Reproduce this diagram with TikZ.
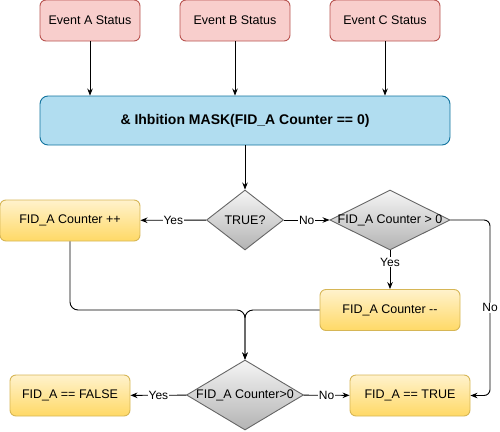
\documentclass[tikz,border=0pt]{standalone}
\usepackage{fontspec}
\setmainfont{Liberation Sans}
\usetikzlibrary{shapes.geometric,arrows.meta}
\definecolor{evfill}{HTML}{F8CECC}
\definecolor{evline}{HTML}{B85450}
\definecolor{mskfill}{HTML}{B1DDF0}
\definecolor{mskline}{HTML}{10739E}
\definecolor{yltop}{HTML}{FFF2CC}
\definecolor{ylbot}{HTML}{FFD966}
\definecolor{ylline}{HTML}{D6B656}
\definecolor{gytop}{HTML}{F5F5F5}
\definecolor{gybot}{HTML}{B3B3B3}
\definecolor{gyline}{HTML}{666666}
\begin{document}
\begin{tikzpicture}[x=1pt,y=-1pt, font=\fontsize{12.5}{15}\selectfont,
    evbox/.style={draw=evline, fill=evfill, rounded corners=6pt, minimum height=41pt, line width=0.9pt},
    mskbox/.style={draw=mskline, fill=mskfill, rounded corners=8pt, minimum width=410pt, minimum height=49pt, line width=0.9pt, font=\fontsize{14}{16}\selectfont\bfseries},
    actbox/.style={draw=ylline, top color=yltop, bottom color=ylbot, rounded corners=6pt, minimum width=#1, minimum height=41pt, line width=0.9pt},
    decide/.style={diamond, draw=gyline, top color=gytop, bottom color=gybot, inner sep=0pt, line width=0.9pt},
    arr/.style={-{Stealth[length=7pt,width=5.5pt]}, line width=0.9pt},
    lbl/.style={fill=white, inner sep=1pt, font=\fontsize{12}{14}\selectfont}
]
    \useasboundingbox (0,0) rectangle (500,431);

    \foreach \n/\t/\x/\w in {evA/A/90/100pt,evB/B/235/110pt,evC/C/385/110pt}
    {
        \node[evbox, minimum width=\w] (\n) at (\x,20.5) {Event \t\ Status};
    }
    \node[mskbox] (mask) at (245,120.5) {\& Ihbition MASK(FID\_A Counter == 0)};

    \foreach \n in {evA,evB,evC}
    {
        \draw[arr] (\n) -- (\n |- mask.north);
    }

    \node[decide, minimum width=77pt, minimum height=60pt] (tru) at (245,220) {TRUE?};
    \node[decide, minimum width=120pt, minimum height=60pt,
          label={center:FID\_A Counter > 0}] (cnt) at (390,220) {};
    \node[actbox=140pt] (inc) at (70,220.5) {FID\_A Counter ++};
    \node[actbox=140pt] (dcr) at (390,310) {FID\_A Counter -{}-};
    \coordinate (mrg) at (245,310);
    \node[decide, minimum width=117pt, minimum height=70pt,
          label={center:FID\_A Counter>0}] (chk) at (245,395) {};
    \node[actbox=120pt] (fls) at (70,395.5) {FID\_A == FALSE};
    \node[actbox=120pt] (tre) at (410,395.5) {FID\_A == TRUE};

    \draw[arr] (mask) -- (tru);
    \draw[arr] (tru) -- node[lbl] {Yes} (inc);
    \draw[arr] (tru) -- node[lbl] {No} (cnt);
    \draw[arr] (cnt) -- node[lbl, pos=0.3] {Yes} (dcr);
    \draw[arr, rounded corners=6pt] (cnt.east) -- (490,220) -- node[lbl] {No} (490,395.5) -- (tre.east);
    \draw[arr, rounded corners=8pt] (inc.south) |- (mrg) -- (chk.north);
    \draw[arr, rounded corners=8pt] (dcr.west) -| (chk.north);
    \draw[arr] (chk) -- node[lbl] {Yes} (fls);
    \draw[arr] (chk) -- node[lbl] {No} (tre);
\end{tikzpicture}
\end{document}
